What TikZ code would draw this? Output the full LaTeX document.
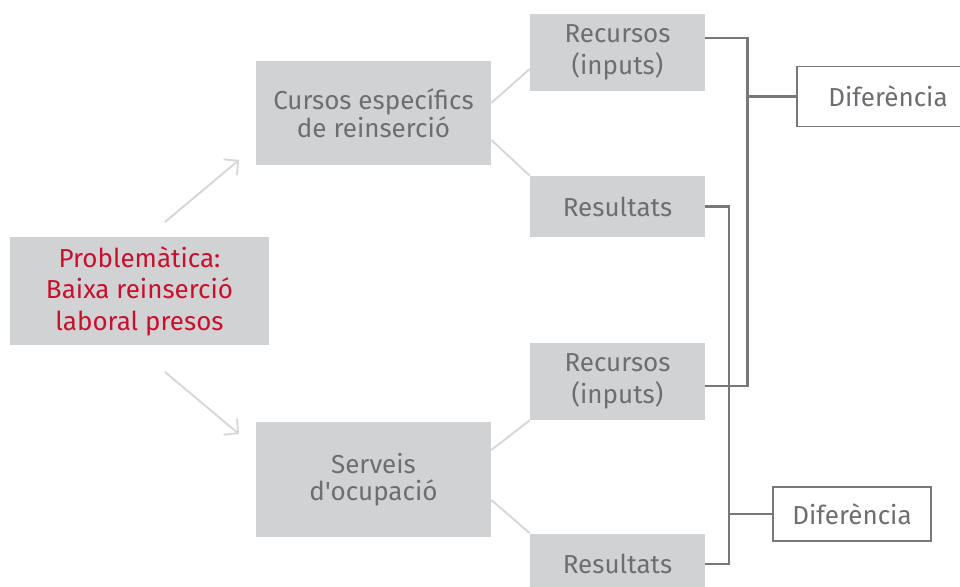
\documentclass[tikz,border=0pt]{standalone}
\usepackage{fontspec}
\setmainfont{Fira Sans}
\usetikzlibrary{arrows.meta}
\definecolor{boxgray}{HTML}{D1D2D4}
\definecolor{linkgray}{HTML}{D6D7D8}
\definecolor{bracketgray}{HTML}{77787B}
\definecolor{textgray}{HTML}{6D6E71}
\definecolor{probred}{HTML}{C8102E}
\begin{document}
\begin{tikzpicture}[x=0.02cm, y=-0.02cm,
    every node/.style={rectangle, align=center, inner sep=0pt, text=textgray,
      font=\fontsize{14.8}{18}\selectfont},
    box/.style={fill=boxgray, minimum width=3.5cm},
    tightbox/.style={box, minimum width=4.7cm, font=\fontsize{14.8}{15}\selectfont},
    difbox/.style={draw=bracketgray, line width=0.8pt, fill=white, minimum height=1.2cm},
    link/.style={draw=linkgray, line width=1.1pt},
    bracket/.style={draw=bracketgray, line width=1.2pt},
    push/.style={draw=linkgray, line width=1.1pt, -{Straight Barb[length=0.2cm, width=0.42cm]}}]
  \useasboundingbox (0,0) rectangle (960,587);
  % left side
  \node (prob) at (139.5,291) [box, minimum width=5.18cm, minimum height=2.16cm, text=probred] {Problemàtica:\\Baixa reinserció\\laboral presos};
  \node (cursos) at (373.5,113) [tightbox, minimum height=2.08cm] {Cursos específics\\de reinserció};
  \node (serveis) at (373.5,479.5) [tightbox, minimum height=2.3cm] {Serveis\\d\textquotesingle ocupació};
  % right side
  \node (rec1) at (617.5,52.5) [box, minimum height=1.54cm] {Recursos\\(inputs)};
  \node (res1) at (617.5,206.5) [box, minimum height=1.22cm] {Resultats};
  \node (rec2) at (617.5,381.5) [box, minimum height=1.54cm] {Recursos\\(inputs)};
  \node (res2) at (617.5,564) [box, minimum height=1.22cm] {Resultats};
  \node (dif1) at (888,96.5) [difbox, minimum width=3.64cm] {Diferència};
  \node (dif2) at (852,514) [difbox, minimum width=3.16cm, minimum height=1.08cm] {Diferència};
  % arrows out of the problem
  \coordinate (up0) at (165,222);
  \coordinate (up1) at (239,160);
  \coordinate (dn0) at (165,372);
  \coordinate (dn1) at (239,434);
  \draw[push] (up0) -- (up1);
  \draw[push] (dn0) -- (dn1);
  % thin links to the right boxes
  \coordinate (c1) at ([yshift=0.2cm]cursos.east);
  \coordinate (c2) at ([yshift=-0.54cm]cursos.east);
  \coordinate (s1) at ([yshift=0.59cm]serveis.east);
  \coordinate (s2) at ([yshift=-0.41cm]serveis.east);
  \coordinate (r1) at ([yshift=-0.33cm]rec1.west);
  \foreach \source/\dest in {c1/r1, c2/res1.north west, s1/rec2.south west, s2/res2.north west}
    \draw[link] (\source) -- (\dest);
  % brackets
  \coordinate (k1) at (747.5,38);
  \coordinate (k2) at (747.5,386);
  \coordinate (k3) at (729,206.5);
  \coordinate (k4) at (729,564);
  \draw[bracket] (rec1.east |- k1) -- (k1) -- (k2) -- (rec2.east |- k2);
  \draw[bracket] (res1.east) -- (k3) -- (k4) -- (res2.east);
  \draw[bracket] (k1 |- dif1.west) -- (dif1.west);
  \draw[bracket] (k3 |- dif2.west) -- (dif2.west);
\end{tikzpicture}
\end{document}
